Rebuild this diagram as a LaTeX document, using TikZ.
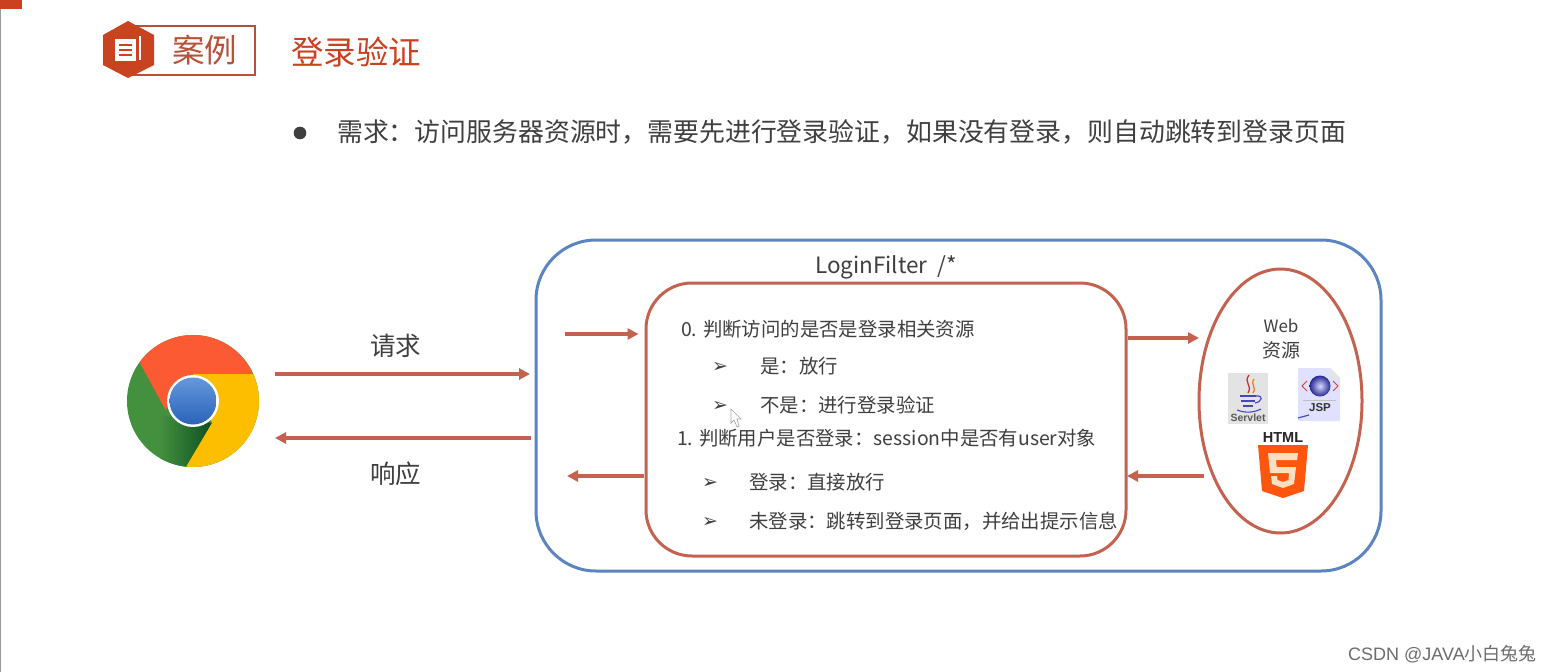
\documentclass[tikz,border=0pt]{standalone}
\usepackage{fontspec}
\setmainfont{Noto Sans CJK SC}
\newfontfamily\dejavu{DejaVu Sans}
\newfontfamily\heros{Liberation Sans}
\usetikzlibrary{arrows.meta,shapes.geometric}
\definecolor{redl}{HTML}{C4624F}
\definecolor{bluel}{HTML}{5B85C0}
\definecolor{brick}{HTML}{C8431F}
\definecolor{txt}{HTML}{3F3F3F}
\definecolor{chred}{HTML}{FB5A33}
\definecolor{chyel}{HTML}{FDBE00}
\definecolor{chgrn}{HTML}{43903F}
\definecolor{chdrk}{HTML}{0E4F22}
\definecolor{chbt}{HTML}{6497DC}
\definecolor{chbb}{HTML}{2A63B8}
\newcommand{\fs}[1]{\fontsize{#1}{#1}\selectfont}
\tikzset{
  arr/.style={draw=redl,line width=3.2pt,-{Triangle[length=11pt,width=11pt]}},
  body/.style={anchor=west,inner sep=0pt,text=txt,font=\fs{19.4}},
  mk/.style={anchor=center,inner sep=0pt,text=txt,font=\dejavu\fs{19}},
  big/.style={anchor=center,inner sep=0pt,text=txt,font=\fs{25.5}},
}
\begin{document}
\begin{tikzpicture}[x=1pt,y=-1pt]
\useasboundingbox (0,0) rectangle (1553,672);
\fill[white] (0,0) rectangle (1553,672);
% page edge
\fill[gray!80] (0,0) rectangle (1.2,672);
\fill[brick!95!red] (0,0) rectangle (22,8.5);
% header
\draw[draw=brick!75!gray,line width=1.6pt] (128,26) -- (255,26) -- (255,75) -- (128,75);
\fill[brick] (103,35) -- (128,21) -- (154,35) -- (154,65) -- (128,78) -- (103,65) -- cycle;
\fill[white] (115,39) rectangle (136,61);
\draw[white,line width=1.3pt] (138.5,37) -- (140,37) -- (140,60);
\draw[brick,line width=1.2pt] (119,45) -- (132,45) (119,50) -- (132,50) (119,55) -- (132,55);
\node[anchor=center,inner sep=0pt,text=brick!75!gray,font=\fs{32.5}] (case) at (204.5,50) {案例};
\node[anchor=center,inner sep=0pt,text=brick!95!red,font=\fs{32.5}] (title) at (356,52) {登录验证};
% requirement
\fill[txt] (300,133) circle (6.3);
\node[anchor=west,inner sep=0pt,text=txt,font=\fs{25.87}] (req) at (337,131.5) {需求：访问服务器资源时，需要先进行登录验证，如果没有登录，则自动跳转到登录页面};
% chrome
\node[circle,minimum size=132pt,inner sep=0pt] (chrome) at (193,401) {};
\begin{scope}
\clip (193,401) circle (66);
\fill[chgrn] (120,330) rectangle (265,475);
\shade[left color=chgrn,right color=chdrk] (160,415) -- (212,423) -- (186,470) -- (160,470) -- cycle;
\fill[chred] (140,363) -- (165.5,410) -- (193,374) -- (252,374) -- (262,320) -- (120,320) -- cycle;
\fill[chyel] (252,374) -- (193,374) -- (212,423) -- (186,467) -- (186,475) -- (265,475) -- (265,374) -- cycle;
\end{scope}
\fill[white] (193,401) circle (26);
\shade[top color=chbt,bottom color=chbb] (193,401) circle (23.5);
% boxes
\node[draw=bluel,line width=3pt,rounded corners=60pt,minimum width=845pt,minimum height=331pt,inner sep=0pt] (filter) at (958.5,405.5) {};
\node[draw=redl,line width=3pt,rounded corners=46pt,minimum width=480pt,minimum height=273pt,inner sep=0pt] (inner) at (886,419.5) {};
\node[draw=redl,line width=3pt,ellipse,minimum width=163pt,minimum height=264pt,inner sep=0pt] (web) at (1280.5,401) {};
\node[anchor=center,inner sep=0pt,text=txt,font=\fs{22.5}] (fname) at (886,267) {LoginFilter\ \ /*};
% connectors
\coordinate (reqfrom) at (275,374);
\coordinate (reqend) at (530,374);
\coordinate (resfrom) at (531,438);
\coordinate (resend) at (275,438);
\coordinate (infrom) at (565,334);
\coordinate (outto) at (567,476);
\coordinate (w1) at (1199,338);
\coordinate (w2) at (1204,476);
\coordinate (w3) at (1127,476);
\draw[arr] (reqfrom) -- (reqend);
\draw[arr] (resfrom) -- (resend);
\draw[arr,shorten >=6pt] (infrom) -- (infrom -| inner.west);
\draw[arr,shorten <=1pt] (inner.west |- outto) -- (outto);
\draw[arr] (inner.east |- w1) -- (w1);
\draw[arr] (w2) -- (w3);
\node[big] (qq) at (395.5,346) {请求};
\node[big] (xy) at (395.5,474) {响应};
% text in filter
\node[body] (l0) at (681,329) {0. 判断访问的是否是登录相关资源};
\node[mk] (m1) at (720,367.5) {➢};
\node[body] (l1) at (760,366) {是：放行};
\node[mk] (m2) at (720,406.5) {➢};
\node[body] (l2) at (760,405) {不是：进行登录验证};
\node[body] (l3) at (677,438) {1. 判断用户是否登录：session中是否有user对象};
\node[mk] (m3) at (710,483.5) {➢};
\node[body] (l4) at (749,482) {登录：直接放行};
\node[mk] (m4) at (710,522.5) {➢};
\node[body] (l5) at (749,521) {未登录：跳转到登录页面，并给出提示信息};
% cursor
\draw[gray!70,fill=white,line width=.7pt] (731,409) -- (731,423) -- (734,420) -- (737,427) -- (739,426) -- (737,419) -- (741,419) -- cycle;
% web contents
\node[anchor=center,inner sep=0pt,text=txt,font=\fs{17}] (wt) at (1281,326) {Web};
\node[anchor=center,inner sep=0pt,text=txt,font=\fs{19}] (wz) at (1281,350) {资源};
% servlet
\fill[gray!22] (1228,373) rectangle (1268,424);
\draw[red!70!black!80!white,line width=1.3pt] (1249,375) .. controls (1243,383) and (1253,385) .. (1248,393);
\draw[orange!90!red,line width=1.2pt] (1254,379) .. controls (1250,385) and (1257,387) .. (1253,393);
\draw[blue!45!gray,line width=1.3pt] (1240,396) -- (1256,396) (1241,401) -- (1255,401) (1243,406) -- (1253,406);
\draw[blue!45!gray,line width=1.1pt] (1256,396) .. controls (1264,395) and (1262,402) .. (1255,403);
\draw[blue!45!gray,line width=1.1pt] (1237,410) .. controls (1245,413) and (1253,413) .. (1261,409);
\node[anchor=center,inner sep=0pt,text=gray!70!black,font=\heros\bfseries\fs{10.5}] (sv) at (1248,418) {Servlet};
% jsp
\fill[blue!12!white] (1298,368) -- (1330,368) -- (1340,378) -- (1340,421) -- (1298,421) -- cycle;
\fill[gray!20] (1330,368) -- (1340,378) -- (1330,378) -- cycle;
\shade[inner color=blue!15,outer color=blue!50!black!85!white] (1320,386) circle (10.5);
\draw[red!50!brown,line width=1pt] (1307,381) -- (1302,386) -- (1307,391) (1333,381) -- (1338,386) -- (1333,391);
\draw[gray!50,line width=.6pt] (1303,400) -- (1336,400);
\node[anchor=center,inner sep=0pt,text=black!80,font=\heros\bfseries\fs{11.5}] (jsp) at (1320,408) {JSP};
\draw[blue!40!gray,line width=1.2pt] (1309,415) -- (1298,418);
% html5
\node[anchor=center,inner sep=0pt,text=black!85,font=\heros\bfseries\fs{14.5}] (html) at (1283,437.5) {HTML};
\fill[orange!60!red!95!white] (1258,445) -- (1308,445) -- (1304,491) -- (1283,498) -- (1262,491) -- cycle;
\fill[white!75!orange] (1268,453) -- (1298,453) -- (1297,460) -- (1276,460) -- (1276.7,467) -- (1296,467) -- (1294,484) -- (1283,488) -- (1272,484) -- (1271,476) -- (1277,476) -- (1277.5,480) -- (1283,482) -- (1288.5,480) -- (1289,473) -- (1270,473) -- cycle;
% watermark
\node[anchor=east,inner sep=0pt,text=gray!85!black,font=\fs{18}] (wm) at (1537,654) {{\heros CSDN @JAVA}小白兔兔};
\end{tikzpicture}
\end{document}
